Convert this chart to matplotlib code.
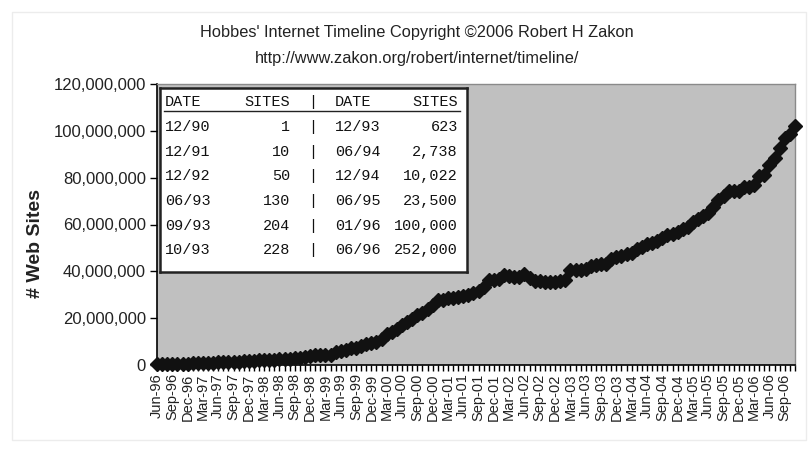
import numpy as np
import pandas as pd
import matplotlib
matplotlib.use('Agg')
import matplotlib.pyplot as plt

# monthly web site counts (millions), Jun-96 .. Nov-06
sites_1996 = [0.25, 0.30, 0.34, 0.40, 0.46, 0.53, 0.60]
sites_1997 = [0.65, 0.74, 0.88, 1.00, 1.04, 1.12, 1.20, 1.27, 1.36, 1.43, 1.53, 1.68]
sites_1998 = [1.83, 2.00, 2.16, 2.22, 2.33, 2.41, 2.59, 2.64, 2.87, 3.16, 3.52, 3.69]
sites_1999 = [4.06, 4.30, 4.30, 4.39, 5.51, 6.18, 6.60, 7.08, 7.08, 8.12, 8.82, 9.56]
sites_2000 = [10.0, 11.2, 13.1, 14.3, 15.5, 17.1, 18.2, 19.8, 21.2, 22.3, 23.8, 25.7]
sites_2001 = [27.6, 27.9, 28.4, 28.7, 29.0, 29.3, 29.8, 30.8, 31.6, 33.1, 36.3, 36.3]
sites_2002 = [36.7, 38.4, 38.1, 37.6, 37.6, 38.8, 37.2, 36.0, 35.8, 35.5, 35.4, 35.5]
sites_2003 = [35.9, 36.2, 40.4, 40.4, 40.6, 40.9, 42.3, 42.8, 43.1, 43.3, 45.1, 46.1]
sites_2004 = [46.5, 47.2, 47.8, 49.6, 50.6, 51.6, 52.1, 53.0, 54.3, 55.5, 56.0, 57.0]
sites_2005 = [58.2, 59.1, 61.0, 62.3, 63.5, 64.8, 67.6, 70.4, 72.0, 74.4, 74.4, 74.4]
sites_2006 = [76.2, 76.2, 77.0, 80.7, 81.2, 85.5, 88.2, 92.6, 96.9, 98.5, 102.0]

# inset table
table_dates_left = ['12/90', '12/91', '12/92', '06/93', '09/93', '10/93']
table_sites_left = ['1', '10', '50', '130', '204', '228']
table_dates_right = ['12/93', '06/94', '12/94', '06/95', '01/96', '06/96']
table_sites_right = ['623', '2,738', '10,022', '23,500', '100,000', '252,000']


def main():
    sites = np.array(sites_1996 + sites_1997 + sites_1998 + sites_1999 + sites_2000 + sites_2001
                     + sites_2002 + sites_2003 + sites_2004 + sites_2005 + sites_2006) * 1e6
    months = pd.date_range('1996-06-01', periods=len(sites), freq='MS')
    x = np.arange(len(sites))

    W, H = 808, 450
    fig = plt.figure(figsize=(W / 100, H / 100), dpi=100)
    sans = ['Liberation Sans', 'DejaVu Sans']

    # faint outer chart frame
    fig.patches.append(plt.Rectangle((12 / W, 1 - 440 / H), 794 / W, 428 / H, transform=fig.transFigure,
                                     fill=False, edgecolor='#ececec', lw=1))

    l, r, t, b = 157, 795, 84, 365
    ax = fig.add_axes([l / W, 1 - b / H, (r - l) / W, (b - t) / H])
    ax.set_facecolor('#c0c0c0')
    ax.plot(x, sites, linestyle='none', marker='D', ms=6.8, color='#111111', clip_on=False, zorder=3)

    ax.set_xlim(0, len(sites) - 1)
    ax.set_ylim(0, 120e6)
    ax.set_yticks(np.arange(0, 120e6 + 1, 20e6))
    ax.set_yticklabels([f'{int(v):,}' for v in np.arange(0, 120e6 + 1, 20e6)], fontsize=12, family=sans,
                       color='#222222')
    ax.set_xticks(x)
    ax.set_xticklabels([m.strftime('%b-%y') if i % 3 == 0 else '' for i, m in enumerate(months)],
                       rotation=90, fontsize=10.5, family=sans, color='#222222')
    ax.tick_params(axis='x', length=4, width=1, pad=2, color='black')
    ax.tick_params(axis='y', length=5, width=1, pad=3, color='black')
    for side in ['top', 'right']:
        ax.spines[side].set_color('#8a8a8a')
        ax.spines[side].set_linewidth(1)
    for side in ['left', 'bottom']:
        ax.spines[side].set_color('black')
        ax.spines[side].set_linewidth(1.2)

    fig.text(36 / W, 1 - 243 / H, '# Web Sites', rotation=90, ha='center', va='center', fontsize=14,
             fontweight='bold', family=sans, color='#222222')
    fig.text(417 / W, 1 - 32 / H, "Hobbes' Internet Timeline Copyright \u00a92006 Robert H Zakon",
             ha='center', va='center', fontsize=11.8, family=sans, color='#222222')
    fig.text(417 / W, 1 - 58 / H, 'http://www.zakon.org/robert/internet/timeline/',
             ha='center', va='center', fontsize=11.8, family=sans, color='#222222')

    # inset table
    tl, tr, tt, tb = 160, 467, 88, 272
    tax = fig.add_axes([tl / W, 1 - tb / H, (tr - tl) / W, (tb - tt) / H])
    tax.set_xlim(0, tr - tl)
    tax.set_ylim(tb - tt, 0)
    tax.set_xticks([])
    tax.set_yticks([])
    tax.set_facecolor('white')
    for sp in tax.spines.values():
        sp.set_linewidth(1.8)
        sp.set_color('#222222')
    mono = dict(family=['Liberation Mono', 'DejaVu Sans Mono'], fontsize=10.9, color='#111111', va='center')
    tax.text(5, 14, 'DATE', ha='left', **mono)
    tax.text(130, 14, 'SITES', ha='right', **mono)
    tax.text(153, 14, '|', ha='center', **mono)
    tax.text(175, 14, 'DATE', ha='left', **mono)
    tax.text(298, 14, 'SITES', ha='right', **mono)
    tax.plot([4, 300], [23, 23], color='#222222', lw=1)
    row_y = [39, 64, 88, 113, 138, 162]
    for i in range(len(row_y)):
        tax.text(5, row_y[i], table_dates_left[i], ha='left', **mono)
        tax.text(130, row_y[i], table_sites_left[i], ha='right', **mono)
        tax.text(153, row_y[i], '|', ha='center', **mono)
        tax.text(175, row_y[i], table_dates_right[i], ha='left', **mono)
        tax.text(298, row_y[i], table_sites_right[i], ha='right', **mono)

    fig.savefig('out.png', dpi=100)


if __name__ == '__main__':
    main()
